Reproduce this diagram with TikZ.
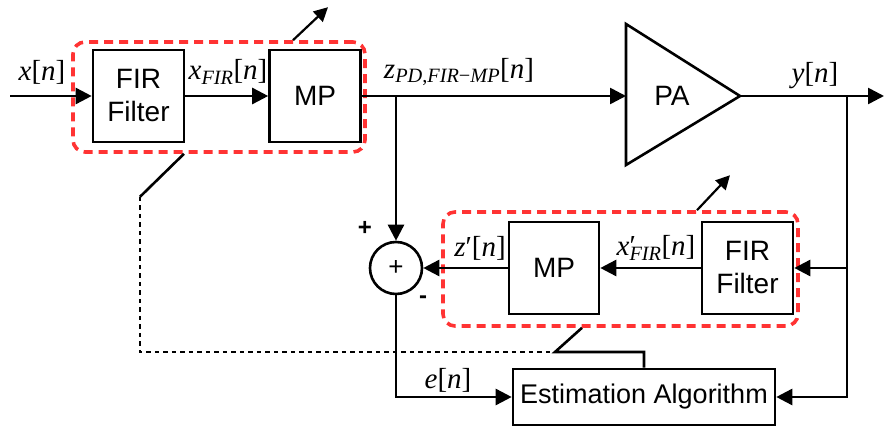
\documentclass[tikz,border=0pt]{standalone}
\usepackage{fontspec}
\setmainfont{Liberation Sans}
\newfontfamily\tms{Liberation Serif}
\usepackage{xcolor}
\definecolor{dpdred}{RGB}{255,51,51}
\usepackage{tikz}
\usetikzlibrary{arrows.meta,positioning}
\tikzset{
  dpd box/.style={draw, line width=2.6pt, minimum width=91pt, minimum height=92pt, inner sep=0pt, align=center, font=\fontsize{28}{33}\selectfont},
  dpd sum/.style={draw, circle, line width=2.6pt, minimum size=52pt, inner sep=0pt, font=\fontsize{26}{26}\selectfont},
  dpd edge/.style={-{Triangle[length=16pt,width=16pt]}, line width=2.6pt},
  dpd line/.style={line width=2.6pt},
  dpd group/.style={draw=dpdred, line width=3.6pt, dash pattern=on 9pt off 6pt, rounded corners=12pt, inner sep=0pt},
  dpd tune/.style={-{Triangle[length=14pt,width=14pt]}, line width=2.2pt},
  dpd dotted/.style={line width=2.4pt, dash pattern=on 4.5pt off 4pt},
  dpd label/.style={font=\fontsize{29}{29}\selectfont\tms, inner sep=0pt},
  dpd sign/.style={font=\fontsize{24}{24}\selectfont\bfseries, inner sep=0pt},
}

\begin{document}
\begin{tikzpicture}[x=1pt, y=1pt]
  \useasboundingbox (0,0) rectangle (884,426);
  % forward path
  \node[dpd box] (fir1) at (138.5,330) {FIR\\Filter};
  \node[dpd box] (mp1) at (315,330) {MP};
  \node[dpd group, minimum width=292pt, minimum height=110pt] (grp1) at (219,329) {};
  \coordinate (xin) at (10,330);
  \coordinate (pain) at (626,330);
  \coordinate (paout) at (740,330);
  \draw[dpd line, line join=miter] (626,402) -- (paout) -- (626,261) -- cycle;
  \node[font=\fontsize{28}{28}\selectfont] (pa) at (672,330) {PA};
  \coordinate (zbr) at (396,330);
  \coordinate (ybr) at (847,330);
  \coordinate (yout) at (884,330);
  % observation path
  \node[dpd sum] (sum) at (396,158) {+};
  \node[dpd box, minimum width=90pt] (mp2) at (554,158) {MP};
  \node[dpd box] (fir2) at (747.5,158) {FIR\\Filter};
  \node[dpd group, minimum width=355pt, minimum height=114pt] (grp2) at (620.5,157) {};
  \node[draw, line width=2.6pt, minimum width=262pt, minimum height=56pt, inner sep=0pt, font=\fontsize{27}{27}\selectfont] (est) at (644,29) {Estimation Algorithm};
  \coordinate (dl2) at (555,74);

  \draw[dpd edge] (xin) -- (fir1);
  \draw[dpd edge] (fir1) -- (mp1);
  \draw[dpd edge] (mp1) -- (pain);
  \draw[dpd edge] (paout) -- (yout);
  \draw[dpd edge] (zbr) -- (sum);
  \draw[dpd edge] (ybr) |- (est);
  \draw[dpd edge] (ybr |- fir2) -- (fir2);
  \draw[dpd edge] (fir2) -- (mp2);
  \draw[dpd edge] (mp2) -- (sum);
  \draw[dpd edge] (sum) |- (est);

  % coefficient update
  \draw[dpd tune] ([xshift=74pt]grp1.north) -- ++(35,33);
  \draw[dpd tune] ([xshift=76.5pt]grp2.north) -- ++(33,35);
  \draw[dpd line] ([xshift=-35pt]grp1.south) -- ++(-44,-43) coordinate (dl1);
  \draw[dpd dotted] (dl1) |- (dl2);
  \draw[dpd line] ([xshift=-38.5pt]grp2.south) -- (dl2) -| (est.north);

  % labels
  \node[dpd label] (lx) at (42,354) {\textit{x}[\textit{n}]};
  \node[dpd label] (lxf) at (228,354) {\textit{x}\textsubscript{\textit{FIR}}[\textit{n}]};
  \node[dpd label] (lz) at (459,354) {\textit{z}\textsubscript{\textit{PD},\textit{FIR}−\textit{MP}}[\textit{n}]};
  \node[dpd label] (ly) at (815,350) {\textit{y}[\textit{n}]};
  \node[dpd label] (lzp) at (480,178) {\textit{z}′[\textit{n}]};
  \node[dpd label] (lxp) at (656,178) {\textit{x}\rlap{′}\textsubscript{\textit{FIR}}[\textit{n}]};
  \node[dpd label] (le) at (448,46) {\textit{e}[\textit{n}]};
  \node[dpd sign] (plus) at (365,198) {+};
  \node[dpd sign] (minus) at (423,126) {-};
\end{tikzpicture}
\end{document}
